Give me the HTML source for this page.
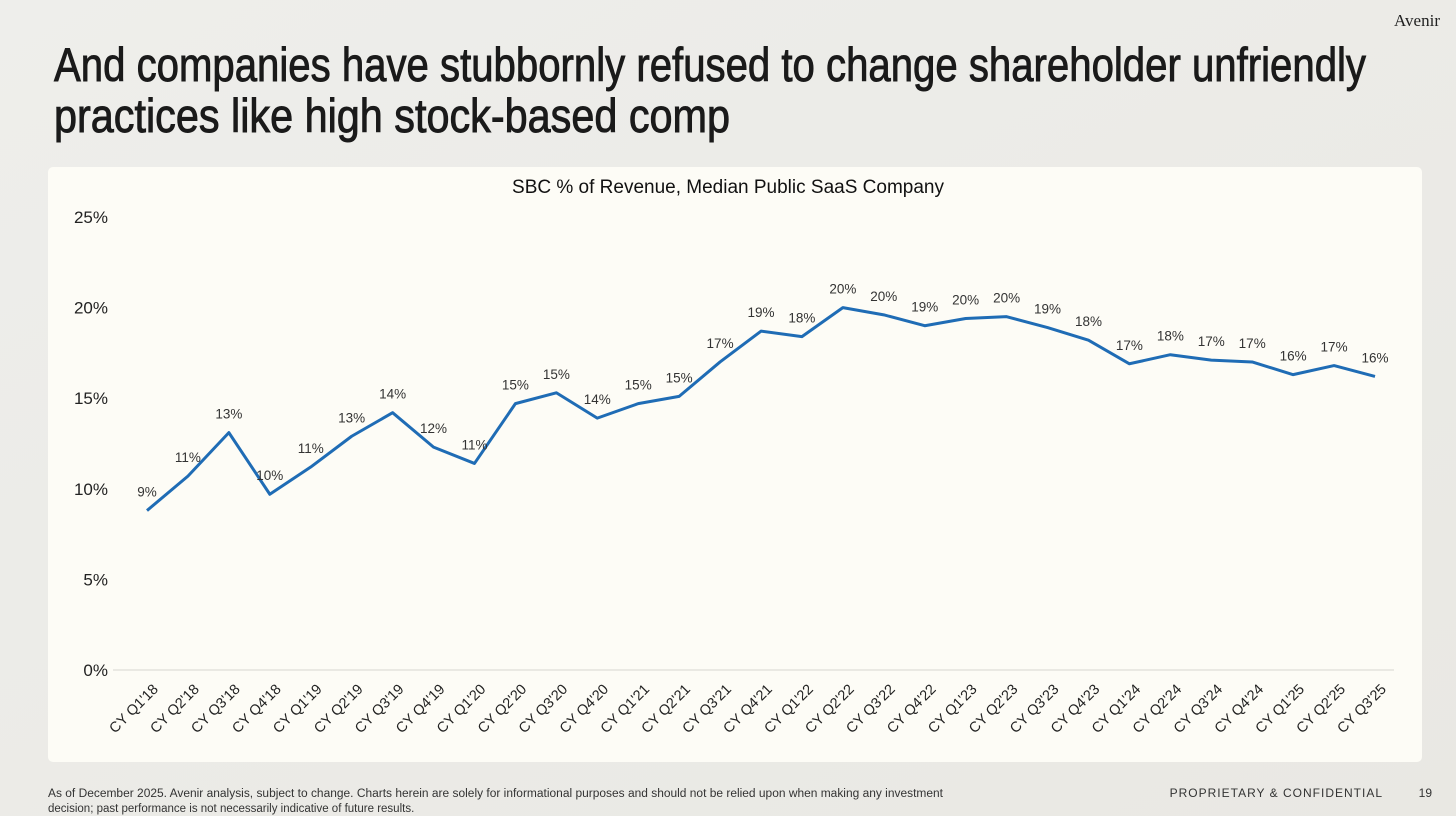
<!DOCTYPE html>
<html><head><meta charset="utf-8"><style>
html,body{margin:0;padding:0;width:1456px;height:816px;overflow:hidden;background:#ecebe7;}
svg{display:block;font-family:"Liberation Sans",sans-serif;}
</style></head><body>
<svg id="s" width="1456" height="816" viewBox="0 0 1456 816">
<defs><linearGradient id="bg" x1="0" y1="0" x2="1" y2="1"><stop offset="0" stop-color="#eeeeeb"/><stop offset="1" stop-color="#e9e8e3"/></linearGradient></defs>
<rect width="1456" height="816" fill="url(#bg)"/>
<text x="1440" y="26" text-anchor="end" font-family="Liberation Serif, serif" font-size="17" fill="#222">Avenir</text>
<text x="54" y="81" font-size="47" fill="#1a1a1a" stroke="#1a1a1a" stroke-width="0.9" textLength="1312" lengthAdjust="spacingAndGlyphs">And companies have stubbornly refused to change shareholder unfriendly</text>
<text x="54" y="132" font-size="47" fill="#1a1a1a" stroke="#1a1a1a" stroke-width="0.9" textLength="676" lengthAdjust="spacingAndGlyphs">practices like high stock-based comp</text>
<rect x="48" y="167" width="1374" height="595" rx="5" fill="#fdfcf6"/>
<text x="728" y="193" text-anchor="middle" font-size="19" fill="#111">SBC % of Revenue, Median Public SaaS Company</text>
<g id="chart"></g>
<text x="48" y="797" font-size="11.5" fill="#333" textLength="895" lengthAdjust="spacingAndGlyphs">As of December 2025. Avenir analysis, subject to change. Charts herein are solely for informational purposes and should not be relied upon when making any investment</text>
<text x="48" y="812" font-size="11.5" fill="#333">decision; past performance is not necessarily indicative of future results.</text>
<text x="1383" y="797" text-anchor="end" font-size="12" letter-spacing="1" fill="#333">PROPRIETARY &amp; CONFIDENTIAL</text>
<text x="1432" y="797" text-anchor="end" font-size="12" fill="#333">19</text>
</svg>
<script>
const categories=["CY Q1'18","CY Q2'18","CY Q3'18","CY Q4'18","CY Q1'19","CY Q2'19","CY Q3'19","CY Q4'19","CY Q1'20","CY Q2'20","CY Q3'20","CY Q4'20","CY Q1'21","CY Q2'21","CY Q3'21","CY Q4'21","CY Q1'22","CY Q2'22","CY Q3'22","CY Q4'22","CY Q1'23","CY Q2'23","CY Q3'23","CY Q4'23","CY Q1'24","CY Q2'24","CY Q3'24","CY Q4'24","CY Q1'25","CY Q2'25","CY Q3'25"];
const values=[8.8,10.7,13.1,9.7,11.2,12.9,14.2,12.3,11.4,14.7,15.3,13.9,14.7,15.1,17.0,18.7,18.4,20.0,19.6,19.0,19.4,19.5,18.9,18.2,16.9,17.4,17.1,17.0,16.3,16.8,16.2];
const labels=["9%","11%","13%","10%","11%","13%","14%","12%","11%","15%","15%","14%","15%","15%","17%","19%","18%","20%","20%","19%","20%","20%","19%","18%","17%","18%","17%","17%","16%","17%","16%"];
const yTicks=[0,5,10,15,20,25];
const NS="http://www.w3.org/2000/svg";
const g=document.getElementById('chart');
const x0=147,x1=1375,y0=670,y1=217,yMax=25;
const X=i=>x0+(x1-x0)*i/(categories.length-1);
const Y=v=>y0-(y0-y1)*v/yMax;
function mk(t,a){const e=document.createElementNS(NS,t);for(const k in a)e.setAttribute(k,a[k]);g.appendChild(e);return e;}
const ax=mk('line',{x1:113,x2:1394,y1:Y(0),y2:Y(0),stroke:'#d6d6d0','stroke-width':1});


yTicks.forEach(v=>{const t=mk('text',{x:108,y:Y(v)+6,'text-anchor':'end','font-size':17,fill:'#222'});t.textContent=v+'%';

});
categories.forEach((c,i)=>{const t=mk('text',{x:X(i)+12,y:Y(0)+20,'text-anchor':'end','font-size':14.5,fill:'#222',transform:`rotate(-45 ${X(i)+12} ${Y(0)+20})`});t.textContent=c;

});
const p=mk('polyline',{points:values.map((v,i)=>X(i)+','+Y(v)).join(' '),fill:'none',stroke:'#1f6cb5','stroke-width':3,'stroke-linejoin':'round'});


values.forEach((v,i)=>{const t=mk('text',{x:X(i),y:Y(v)-14,'text-anchor':'middle','font-size':13.5,fill:'#333'});t.textContent=labels[i];

});
</script>
</body></html>
